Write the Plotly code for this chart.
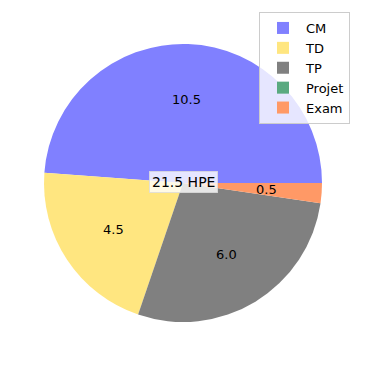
import math
import plotly.graph_objects as go

labels = ["CM", "TD", "TP", "Projet", "Exam"]
values = [10.5, 4.5, 6.0, 0.0, 0.5]
colors = ["#8080ff", "#ffe680", "#808080", "#5aaa80", "#ff9966"]
center_text = "21.5 HPE"

total = sum(values)
W = 350  # page body has an 8px margin; 8 + 350 + 8 = 366
OFF = 8

def px(x):
    return (x - OFF) / W

def py(y):
    return 1 - (y - OFF) / W

# start the first slice at 3 o'clock, going counterclockwise
# (plotly places the first slice's counterclockwise end at `rotation`)
rotation = (90 - 360 * values[0] / total) % 360

fig = go.Figure()
dom_x = [px(44), px(322)]
dom_y = [py(322), py(44)]
fig.add_trace(go.Pie(
    labels=labels, values=values, sort=False, direction="counterclockwise",
    rotation=rotation, marker=dict(colors=colors, line=dict(width=0)),
    textinfo="none", hoverinfo="label+value",
    domain=dict(x=dom_x, y=dom_y), showlegend=True,
))

# autopct-like labels at 0.6 radius
cx = (dom_x[0] + dom_x[1]) / 2
cy = (dom_y[0] + dom_y[1]) / 2
r = 0.6 * (dom_x[1] - dom_x[0]) / 2
start = 0.0
for lab, v in zip(labels, values):
    ang = (start + v / 2) / total * 2 * math.pi
    start += v
    if v <= 0:
        continue
    fig.add_annotation(x=cx + r * math.cos(ang), y=cy + r * math.sin(ang),
                       xref="paper", yref="paper", text=f"{v:.1f}", showarrow=False,
                       xanchor="center", yanchor="middle",
                       font=dict(size=13, color="black"))

fig.add_annotation(x=px(183), y=py(182), xref="paper", yref="paper", text=center_text,
                   showarrow=False, xanchor="center", yanchor="middle",
                   font=dict(size=14, color="black"),
                   bgcolor="rgba(255,255,255,0.8)", bordercolor="rgba(220,220,220,0.8)",
                   borderwidth=1, borderpad=2)

fig.update_layout(
    width=W, height=W, margin=dict(l=0, r=0, t=0, b=0),
    paper_bgcolor="white", plot_bgcolor="white",
    font=dict(family="DejaVu Sans", size=13, color="black"),
    legend=dict(x=px(259), y=py(12), xanchor="left", yanchor="top",
                bgcolor="rgba(255,255,255,0.8)", bordercolor="#cccccc", borderwidth=1,
                font=dict(size=13), itemwidth=36, tracegroupgap=0),
)

fig.write_html("out.html")
